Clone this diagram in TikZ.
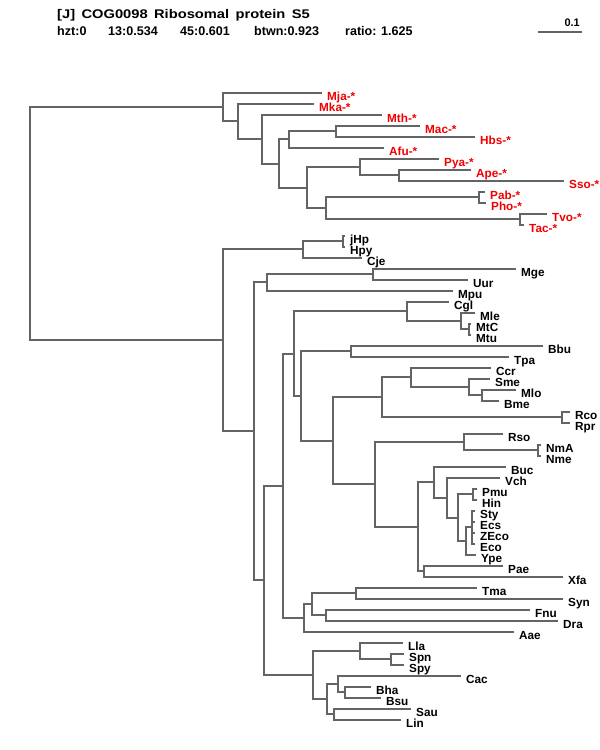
\documentclass[tikz,border=0pt]{standalone}
\usepackage{fontspec}
\setmainfont{Liberation Sans}
\definecolor{treeline}{RGB}{100,100,100}
\definecolor{labred}{RGB}{240,0,0}
\newcommand\labfont{\fontsize{11.8}{13}\selectfont\bfseries}
\newcommand\ttlfont{\fontsize{12.6}{14}\selectfont\bfseries}
\newcommand\mkleaf[5]{%
  \coordinate (t#1) at ({round(#2)},{round(#3)});
  \node[#4] (#1) at ([xshift=6bp,yshift=-7.5bp]t#1) {#5};}
\newcommand\mknode[3]{\coordinate (#1) at ({round(#2)},{round(#3)});}
\begin{document}
\begin{tikzpicture}[x=1bp,y=-1bp,
  edge/.style={draw=treeline,line width=2bp,line cap=rect},
  lab/.style={anchor=base west,inner sep=0pt,font=\labfont,text=black},
  arc/.style={lab,text=labred},
  hdr/.style={anchor=base west,inner sep=0pt,font=\ttlfont,text=black}]
\useasboundingbox (0,0) rectangle (600,750);
% header
\node[hdr] (title) at (57,18.5) {\scalebox{1.17}[1]{\spaceskip=5.5bp [J] COG0098 Ribosomal protein S5}};
\node[hdr] (s1) at (57,35.5) {hzt:0};
\node[hdr] (s2) at (108,35.5) {13:0.534};
\node[hdr] (s3) at (180,35.5) {45:0.601};
\node[hdr] (s4) at (254,35.5) {btwn:0.923};
\node[hdr] (s5) at (345,35.5) {ratio: 1.625};
\coordinate (sbA) at (539,32);
\coordinate (sbB) at (581,32);
\draw[edge,line width=1.4bp] (sbA) -- (sbB);
\node[anchor=base east,inner sep=0pt,font=\fontsize{11}{12}\selectfont\bfseries] (sblab) at (580,27) {0.1};
% leaves
\mkleaf{Mja}{320.7}{92.7}{arc}{Mja-*}
\mkleaf{Mka}{312.7}{103.7}{arc}{Mka-*}
\mkleaf{Mth}{381}{114.7}{arc}{Mth-*}
\mkleaf{Mac}{419.3}{125.7}{arc}{Mac-*}
\mkleaf{Hbs}{474.3}{136.7}{arc}{Hbs-*}
\mkleaf{Afu}{383.3}{147.7}{arc}{Afu-*}
\mkleaf{Pya}{438.3}{158.7}{arc}{Pya-*}
\mkleaf{Ape}{470}{169.7}{arc}{Ape-*}
\mkleaf{Sso}{563.3}{180.7}{arc}{Sso-*}
\mkleaf{Pab}{484.3}{191.7}{arc}{Pab-*}
\mkleaf{Pho}{485}{202.7}{arc}{Pho-*}
\mkleaf{Tvo}{546}{213.7}{arc}{Tvo-*}
\mkleaf{Tac}{522.7}{224.7}{arc}{Tac-*}
\mkleaf{jHp}{344}{235.7}{lab}{jHp}
\mkleaf{Hpy}{344}{246.7}{lab}{Hpy}
\mkleaf{Cje}{361}{257.7}{lab}{Cje}
\mkleaf{Mge}{515}{268.7}{lab}{Mge}
\mkleaf{Uur}{466.7}{279.7}{lab}{Uur}
\mkleaf{Mpu}{451.7}{290.7}{lab}{Mpu}
\mkleaf{Cgl}{448.3}{301.7}{lab}{Cgl}
\mkleaf{Mle}{474}{312.7}{lab}{Mle}
\mkleaf{MtC}{470}{323.7}{lab}{MtC}
\mkleaf{Mtu}{470}{334.7}{lab}{Mtu}
\mkleaf{Bbu}{541.7}{345.7}{lab}{Bbu}
\mkleaf{Tpa}{508.3}{356.7}{lab}{Tpa}
\mkleaf{Ccr}{490}{367.7}{lab}{Ccr}
\mkleaf{Sme}{489}{378.7}{lab}{Sme}
\mkleaf{Mlo}{515}{389.7}{lab}{Mlo}
\mkleaf{Bme}{497.7}{400.7}{lab}{Bme}
\mkleaf{Rco}{569.3}{411.7}{lab}{Rco}
\mkleaf{Rpr}{569.3}{422.7}{lab}{Rpr}
\mkleaf{Rso}{501.7}{433.7}{lab}{Rso}
\mkleaf{NmA}{540}{444.7}{lab}{NmA}
\mkleaf{Nme}{540}{455.7}{lab}{Nme}
\mkleaf{Buc}{505}{466.7}{lab}{Buc}
\mkleaf{Vch}{499.3}{477.7}{lab}{Vch}
\mkleaf{Pmu}{475.5}{488.7}{lab}{Pmu}
\mkleaf{Hin}{475.5}{499.7}{lab}{Hin}
\mkleaf{Sty}{473.5}{510.7}{lab}{Sty}
\mkleaf{Ecs}{473.5}{521.7}{lab}{Ecs}
\mkleaf{ZEco}{473.5}{532.7}{lab}{ZEco}
\mkleaf{Eco}{473.5}{543.7}{lab}{Eco}
\mkleaf{Ype}{475}{554.7}{lab}{Ype}
\mkleaf{Pae}{501.7}{565.7}{lab}{Pae}
\mkleaf{Xfa}{561.7}{576.7}{lab}{Xfa}
\mkleaf{Tma}{476}{587.7}{lab}{Tma}
\mkleaf{Syn}{561.7}{598.7}{lab}{Syn}
\mkleaf{Fnu}{529.3}{609.7}{lab}{Fnu}
\mkleaf{Dra}{557.3}{620.7}{lab}{Dra}
\mkleaf{Aae}{513.3}{631.7}{lab}{Aae}
\mkleaf{Lla}{401.7}{642.7}{lab}{Lla}
\mkleaf{Spn}{403.3}{653.7}{lab}{Spn}
\mkleaf{Spy}{403.3}{664.7}{lab}{Spy}
\mkleaf{Cac}{460}{675.7}{lab}{Cac}
\mkleaf{Bha}{370}{686.7}{lab}{Bha}
\mkleaf{Bsu}{380}{697.7}{lab}{Bsu}
\mkleaf{Sau}{410}{708.7}{lab}{Sau}
\mkleaf{Lin}{400}{719.7}{lab}{Lin}
% internal nodes
\mknode{Root}{30}{223.75}
\mknode{A1}{223}{107.05}
\mknode{A2}{237.7}{121.4}
\mknode{A3}{262}{139.11}
\mknode{A4}{279.3}{163.51}
\mknode{A5}{288.7}{139.45}
\mknode{MH}{335.7}{131.2}
\mknode{A6}{306.7}{187.58}
\mknode{C1}{360.3}{166.95}
\mknode{C3}{399}{175.2}
\mknode{C2}{325.7}{208.2}
\mknode{PP}{479.3}{197.2}
\mknode{TT}{520}{219.2}
\mknode{B0}{222.7}{340.44}
\mknode{HC}{302.7}{249.45}
\mknode{JH}{342.7}{241.2}
\mknode{B1}{254.3}{431.43}
\mknode{MU}{266.7}{282.45}
\mknode{MgU}{372.7}{274.2}
\mknode{B2}{264}{580.41}
\mknode{B3}{282.7}{485.81}
\mknode{B4}{293.7}{353.66}
\mknode{CM}{406.7}{311.33}
\mknode{M}{461}{320.95}
\mknode{MM}{468.7}{329.2}
\mknode{B5}{300.7}{396.0}
\mknode{BT}{351}{351.2}
\mknode{B6}{333.3}{440.79}
\mknode{Al}{381.7}{397.26}
\mknode{CS}{410.7}{377.33}
\mknode{SMB}{469.3}{386.95}
\mknode{MB}{481.7}{395.2}
\mknode{RR}{561.7}{417.2}
\mknode{BG}{375}{484.32}
\mknode{RN}{464}{441.95}
\mknode{NN}{538.3}{450.2}
\mknode{G}{418.3}{526.69}
\mknode{Ent}{434.3}{482.17}
\mknode{V}{447.3}{497.64}
\mknode{PE}{458}{517.58}
\mknode{PH}{473.3}{494.2}
\mknode{EY}{465.5}{540.95}
\mknode{E}{472.3}{527.2}
\mknode{PX}{424}{571.2}
\mknode{B7}{304}{617.95}
\mknode{B8}{311.7}{604.2}
\mknode{TS}{356}{593.2}
\mknode{FD}{326}{615.2}
\mknode{B9}{313.3}{675.01}
\mknode{LS}{360}{650.95}
\mknode{SS}{390.7}{659.2}
\mknode{BC}{326.7}{699.08}
\mknode{CB}{338.3}{683.95}
\mknode{BB}{345}{692.2}
\mknode{SL}{334}{714.2}
% edges
\foreach \p/\c in {Root/A1,Root/B0,
  A1/tMja,A1/A2,A2/tMka,A2/A3,A3/tMth,A3/A4,A4/A5,A4/A6,
  A5/MH,A5/tAfu,MH/tMac,MH/tHbs,A6/C1,A6/C2,C1/tPya,C1/C3,
  C3/tApe,C3/tSso,C2/PP,C2/TT,PP/tPab,PP/tPho,TT/tTvo,TT/tTac,
  B0/HC,B0/B1,HC/JH,HC/tCje,JH/tjHp,JH/tHpy,
  B1/MU,B1/B2,MU/MgU,MU/tMpu,MgU/tMge,MgU/tUur,
  B2/B3,B2/B9,B3/B4,B3/B7,B4/CM,B4/B5,CM/tCgl,CM/M,M/tMle,M/MM,
  MM/tMtC,MM/tMtu,B5/BT,B5/B6,BT/tBbu,BT/tTpa,B6/Al,B6/BG,
  Al/CS,Al/RR,CS/tCcr,CS/SMB,SMB/tSme,SMB/MB,MB/tMlo,MB/tBme,
  RR/tRco,RR/tRpr,BG/RN,BG/G,RN/tRso,RN/NN,NN/tNmA,NN/tNme,
  G/Ent,G/PX,Ent/tBuc,Ent/V,V/tVch,V/PE,PE/PH,PE/EY,PH/tPmu,PH/tHin,
  EY/E,EY/tYpe,E/tSty,E/tEcs,E/tZEco,E/tEco,PX/tPae,PX/tXfa,
  B7/B8,B7/tAae,B8/TS,B8/FD,TS/tTma,TS/tSyn,FD/tFnu,FD/tDra,
  B9/LS,B9/BC,LS/tLla,LS/SS,SS/tSpn,SS/tSpy,BC/CB,BC/SL,
  CB/tCac,CB/BB,BB/tBha,BB/tBsu,SL/tSau,SL/tLin}
  \draw[edge] (\p) |- (\c);
\end{tikzpicture}
\end{document}
